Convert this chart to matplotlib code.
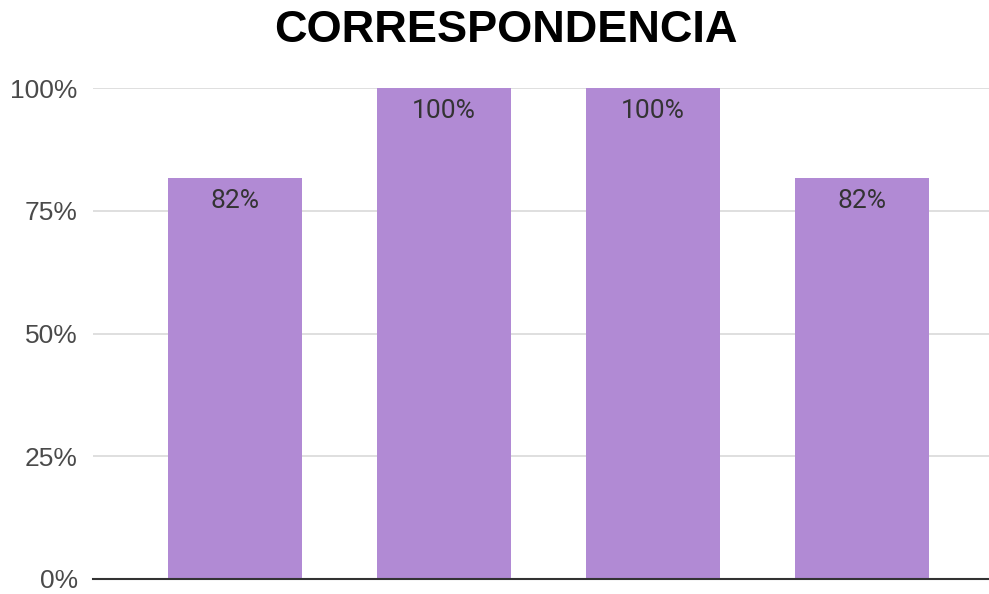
import numpy as np
import matplotlib
matplotlib.use("Agg")
import matplotlib.pyplot as plt
from matplotlib.ticker import PercentFormatter

plt.rcParams['font.family'] = ['Roboto', 'DejaVu Sans']

values = [0.816, 1.00, 1.00, 0.816]
labels = ["82%", "100%", "100%", "82%"]
yticks = [0, 0.25, 0.5, 0.75, 1.0]

fig = plt.figure(figsize=(9.89, 5.94), dpi=100)
ax = fig.add_axes([93 / 989, 1 - 579 / 594, 1 - 93 / 989, (579 - 88) / 594])

x = np.arange(len(values))
bars = ax.bar(x, values, width=0.64, color="#b18ad4", zorder=3)

ax.set_xlim(-0.679, 3.608)
ax.set_ylim(0, 1)
ax.set_yticks(yticks)
ax.yaxis.set_major_formatter(PercentFormatter(1.0, decimals=0))
ax.set_xticks([])
ax.grid(axis="y", color="#d9d9d9", linewidth=1.2, zorder=0)
ax.tick_params(axis="y", length=0, pad=11, labelsize=19, labelcolor="#4a4a4a")
for t in ax.get_yticklabels():
    t.set_family(["Liberation Sans", "DejaVu Sans"])
for s in ["top", "right", "left"]:
    ax.spines[s].set_visible(False)
ax.spines["bottom"].set_color("#333333")
ax.spines["bottom"].set_linewidth(1.5)
ax.spines["bottom"].set_zorder(4)

for xi, v, lab in zip(x, values, labels):
    ax.text(xi, v - 0.047, lab, ha="center", va="center", fontsize=19, color="#333333", zorder=5)

fig.text(506 / 989, 1 - 31 / 594, "CORRESPONDENCIA", ha="center", va="center",
         fontsize=32.5, fontweight="bold", color="#000000", family=["Liberation Sans", "DejaVu Sans"])

fig.savefig("out.png", dpi=100)
